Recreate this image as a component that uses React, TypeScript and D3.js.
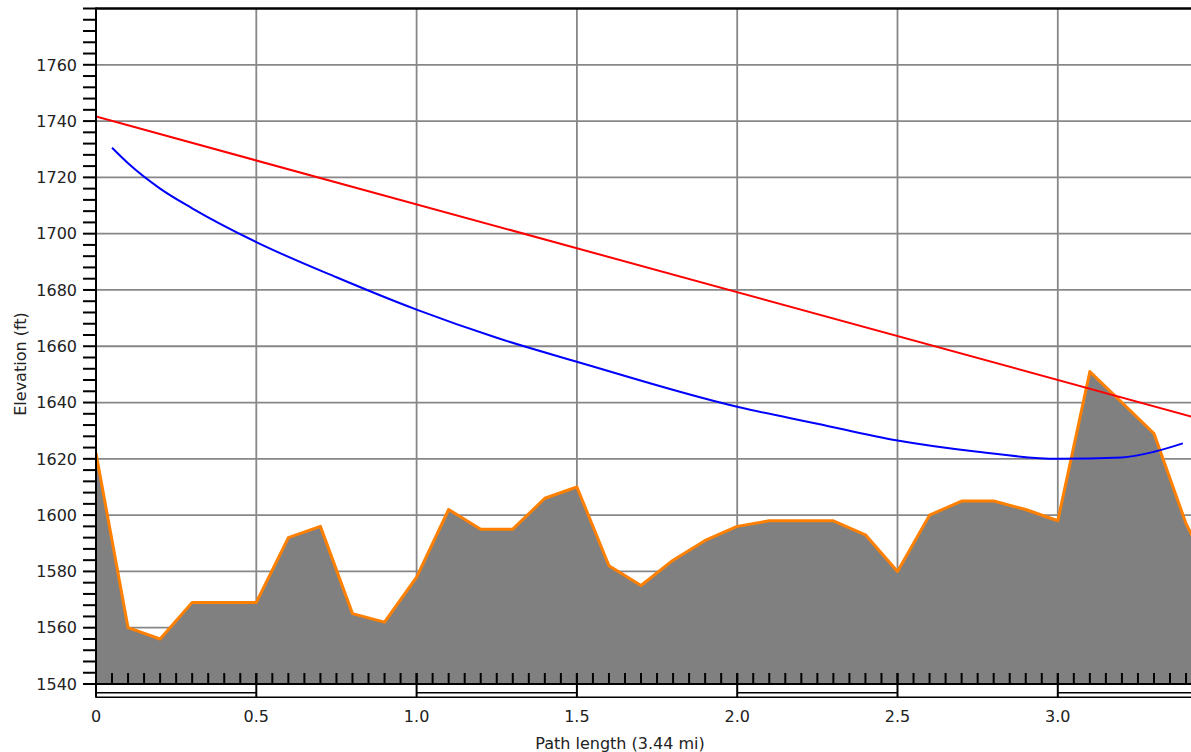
import React from "react";
import * as d3 from "d3";

// ---- data ----
const terrainDist = [0, 0.1, 0.2, 0.3, 0.4, 0.5, 0.6, 0.7, 0.8, 0.9, 1.0, 1.1, 1.2, 1.3, 1.4, 1.5, 1.6, 1.7, 1.8, 1.9, 2.0, 2.1, 2.2, 2.3, 2.4, 2.5, 2.6, 2.7, 2.8, 2.9, 3.0, 3.1, 3.2, 3.3, 3.4, 3.44];
const terrainElev = [1622, 1560, 1556, 1569, 1569, 1569, 1592, 1596, 1565, 1562, 1578, 1602, 1595, 1595, 1606, 1610, 1582, 1575, 1584, 1591, 1596, 1598, 1598, 1598, 1593, 1580, 1600, 1605, 1605, 1602, 1598, 1651, 1640, 1629, 1597, 1588];

const losDist = [0, 3.44];
const losElev = [1741.6, 1634.3];

const fresnelDist = [0.05, 0.1, 0.2, 0.3, 0.5, 0.75, 1.0, 1.25, 1.5, 2.0, 2.25, 2.5, 2.75, 3.0, 3.2, 3.3, 3.39];
const fresnelElev = [1730.5, 1725, 1716, 1709, 1697, 1684.5, 1673, 1663, 1654.5, 1638.5, 1632.5, 1626.5, 1622.5, 1620, 1620.5, 1622.5, 1625.5];

const yTicks = [1540, 1560, 1580, 1600, 1620, 1640, 1660, 1680, 1700, 1720, 1740, 1760];
const xTicks = [0, 0.5, 1.0, 1.5, 2.0, 2.5, 3.0];
const xTickLabels = ["0", "0.5", "1.0", "1.5", "2.0", "2.5", "3.0"];
const yTitle = "Elevation (ft)";
const xTitle = "Path length (3.44 mi)";

const W = 1191;
const H = 752;
const L = 96;
const T = 8.5;
const B = 684;
const XMAX = 3.44;
const PX_PER_MI = 320.6;

export default function App() {
  const x = d3.scaleLinear().domain([0, XMAX]).range([L, L + XMAX * PX_PER_MI]);
  const y = d3.scaleLinear().domain([1540, 1780]).range([B, T]);

  const terrain = terrainDist.map((d, i) => [d, terrainElev[i]] as [number, number]);
  const los = losDist.map((d, i) => [d, losElev[i]] as [number, number]);
  const fresnel = fresnelDist.map((d, i) => [d, fresnelElev[i]] as [number, number]);

  const area = d3.area<[number, number]>().x((d) => x(d[0])).y0(y(1540)).y1((d) => y(d[1]));
  const line = d3.line<[number, number]>().x((d) => x(d[0])).y((d) => y(d[1]));
  const curve = d3.line<[number, number]>().x((d) => x(d[0])).y((d) => y(d[1])).curve(d3.curveMonotoneX);

  const yMinor = d3.range(1540, 1781, 4);
  const xMinor = d3.range(0, XMAX + 1e-9, 0.05).map((v) => Math.round(v * 100) / 100);
  const xRight = x(XMAX);

  const segEdges = [...xTicks, XMAX];
  const font = "'DejaVu Sans', sans-serif";

  return (
    <svg width={W} height={H} style={{ position: "absolute", left: 0, top: 0, background: "#fff" }} fontFamily={font}>
      <defs>
        <clipPath id="plotclip">
          <rect x={L} y={T} width={xRight - L} height={B - T} />
        </clipPath>
      </defs>
      {/* grid */}
      <g stroke="#878787" strokeWidth={1.8}>
        {yTicks.filter((v) => v > 1540).map((v) => (
          <line key={"gy" + v} x1={L} x2={W} y1={y(v)} y2={y(v)} />
        ))}
        {xTicks.filter((v) => v > 0).map((v) => (
          <line key={"gx" + v} x1={x(v)} x2={x(v)} y1={T} y2={B} />
        ))}
      </g>
      <g clipPath="url(#plotclip)">
        <path d={area(terrain) || ""} fill="#808080" />
        <path d={line(terrain) || ""} fill="none" stroke="#ff8000" strokeWidth={3} strokeLinejoin="round" />
        <path d={line(los) || ""} fill="none" stroke="#ff0000" strokeWidth={2} />
        <path d={curve(fresnel) || ""} fill="none" stroke="#0000ff" strokeWidth={2} />
      </g>
      {/* top border */}
      <line x1={L} x2={W} y1={T} y2={T} stroke="#000" strokeWidth={2.5} />
      {/* left axis */}
      <line x1={L} x2={L} y1={T - 1} y2={697.5} stroke="#000" strokeWidth={2} />
      {/* y ticks */}
      <g stroke="#000" strokeWidth={2}>
        {yMinor.map((v) => (
          <line key={"yt" + v} x1={83} x2={L} y1={y(v)} y2={y(v)} />
        ))}
      </g>
      <g fontSize={16} fill="#222" textAnchor="end">
        {yTicks.map((v) => (
          <text key={"yl" + v} x={77} y={y(v)} dy="0.36em">{v}</text>
        ))}
      </g>
      {/* x axis line and scale bar */}
      <line x1={L} x2={W} y1={B} y2={B} stroke="#000" strokeWidth={2} />
      <g stroke="#000" strokeWidth={1.5}>
        {segEdges.slice(0, -1).map((v, i) =>
          i % 2 === 0 ? (
            <line key={"sb" + v} x1={x(v)} x2={x(segEdges[i + 1])} y1={692.7} y2={692.7} />
          ) : null
        )}
        <line x1={L} x2={W} y1={697.3} y2={697.3} />
      </g>
      <g stroke="#000" strokeWidth={2}>
        {xMinor.map((v) => (
          <line key={"xt" + v} x1={x(v)} x2={x(v)} y1={673} y2={B} />
        ))}
        {xTicks.map((v) => (
          <line key={"xT" + v} x1={x(v)} x2={x(v)} y1={673} y2={697.5} />
        ))}
      </g>
      <g fontSize={16} fill="#222" textAnchor="middle">
        {xTicks.map((v, i) => (
          <text key={"xl" + v} x={x(v)} y={716} dy="0.36em">{xTickLabels[i]}</text>
        ))}
      </g>
      <text x={620} y={743} dy="0.36em" fontSize={16} fill="#222" textAnchor="middle">{xTitle}</text>
      <text transform={`translate(20, 364) rotate(-90)`} dy="0.36em" fontSize={16} fill="#222" textAnchor="middle">{yTitle}</text>
    </svg>
  );
}
